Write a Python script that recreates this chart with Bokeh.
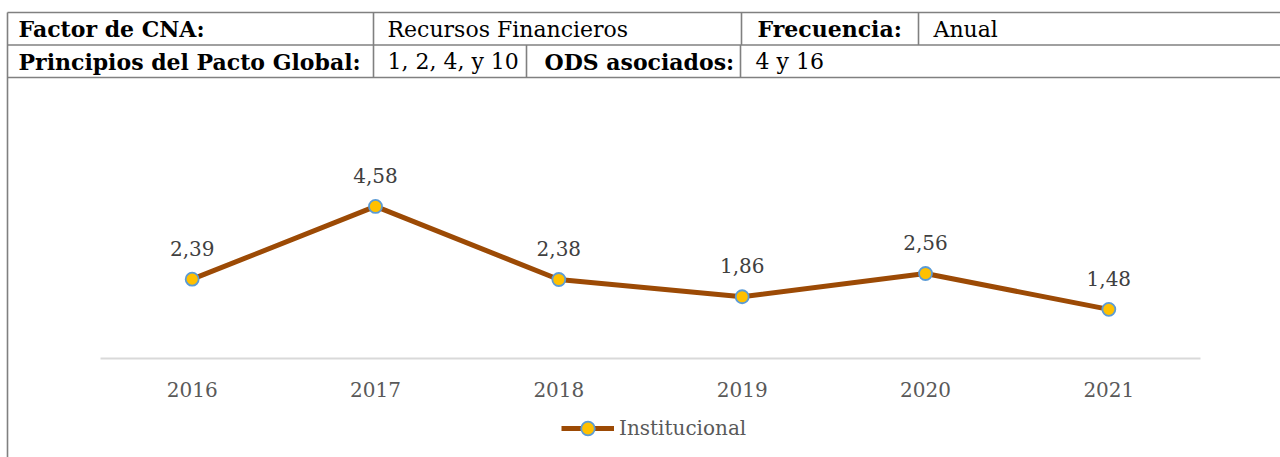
from bokeh.plotting import figure
from bokeh.models import Range1d, Label, Legend, LegendItem, ColumnDataSource
from bokeh.core.properties import value
from bokeh.embed import file_html
from bokeh.resources import INLINE

# ---------------- data ----------------
years = [2016, 2017, 2018, 2019, 2020, 2021]
institucional = [2.39, 4.58, 2.38, 1.86, 2.56, 1.48]
series_name = "Institucional"

row1_texts = ["Factor de CNA:", "Recursos Financieros", "Frecuencia:", "Anual"]
row1_bold = [True, False, True, False]
row2_texts = ["Principios del Pacto Global:", "1, 2, 4, y 10", "ODS asociados:", "4 y 16"]
row2_bold = [True, False, True, False]

# ---------------- layout (pixel coordinates of the reference) ----------------
W, H = 1280, 457

FONT = "DejaVu Serif"
TABLE_SIZE = "22px"
CHART_SIZE = "20px"

table_left = 7
table_right = W
table_lines_y = [12, 44.5, 77]
row1_seps = [373, 741, 918]
row2_seps = [373, 526, 740]
row1_text_x = [18, 387, 757, 933]
row2_text_x = [18, 387, 544, 755]
row_centers = [28.5, 61]

band_left, band_right = 100, 1200
zero_y = 358
unit_px = 33.2

p = figure(width=W, height=H, output_backend="svg", toolbar_location=None,
           x_range=Range1d(0, W), y_range=Range1d(H, 0),
           min_border=0, min_border_left=0, min_border_right=0,
           min_border_top=0, min_border_bottom=0)
p.xaxis.visible = False
p.yaxis.visible = False
p.grid.visible = False
p.outline_line_color = None
p.background_fill_color = "white"
p.border_fill_color = "white"

# chart ranges (value scales for the line chart)
band = (band_right - band_left) / len(years)
xs = years[0] - 0.5 - band_left / band
p.extra_x_ranges = {"cx": Range1d(xs, xs + W / band)}
ys = -(H - zero_y) / unit_px
p.extra_y_ranges = {"cy": Range1d(ys, ys + H / unit_px)}

# ---------------- table ----------------
BORDER = "#808080"
for yy in table_lines_y:
    p.segment(x0=table_left, y0=yy, x1=table_right, y1=yy, line_color=BORDER, line_width=1.6)
p.segment(x0=table_left, y0=table_lines_y[0], x1=table_left, y1=H, line_color=BORDER, line_width=1.6)
for sx in row1_seps:
    p.segment(x0=sx, y0=table_lines_y[0], x1=sx, y1=table_lines_y[1], line_color=BORDER, line_width=1.6)
for sx in row2_seps:
    p.segment(x0=sx, y0=table_lines_y[1], x1=sx, y1=table_lines_y[2], line_color=BORDER, line_width=1.6)

for texts, bolds, xpos, cy in [(row1_texts, row1_bold, row1_text_x, row_centers[0]),
                               (row2_texts, row2_bold, row2_text_x, row_centers[1])]:
    for t, b, x in zip(texts, bolds, xpos):
        p.add_layout(Label(x=x, y=cy, text=t, text_font=FONT,
                           text_font_size=TABLE_SIZE, text_font_style="bold" if b else "normal",
                           text_color="black", text_baseline="middle", text_align="left"))

# ---------------- chart ----------------
src = ColumnDataSource(dict(
    x=years, y=institucional,
    lab=[f"{v:.2f}".replace(".", ",") for v in institucional],
    yr=[str(y) for y in years],
    zero=[0] * len(years),
))

p.segment(x0=years[0] - 0.5, y0=0, x1=years[-1] + 0.5, y1=0,
          x_range_name="cx", y_range_name="cy", line_color="#d9d9d9", line_width=2)

line_r = p.line("x", "y", source=src, x_range_name="cx", y_range_name="cy",
                line_color="#9C4A05", line_width=5, line_join="round")
dot_r = p.scatter("x", "y", source=src, x_range_name="cx", y_range_name="cy",
                  size=13, fill_color="#FFC000", line_color="#5B9BD5", line_width=1.8)

p.text("x", "y", text="lab", source=src, x_range_name="cx", y_range_name="cy",
       y_offset=-31, text_font=value(FONT), text_font_size=CHART_SIZE,
       text_color="#404040", text_align="center", text_baseline="middle")
p.text("x", "zero", text="yr", source=src, x_range_name="cx", y_range_name="cy",
       y_offset=31, text_font=value(FONT), text_font_size=CHART_SIZE,
       text_color="#595959", text_align="center", text_baseline="middle")

legend = Legend(items=[LegendItem(label=series_name, renderers=[line_r, dot_r])],
                location=(561, H - 428 - 17), orientation="horizontal",
                glyph_width=53, glyph_height=34, label_standoff=5,
                padding=0, margin=0, spacing=0,
                border_line_color=None, background_fill_alpha=0,
                label_text_font=FONT, label_text_font_size=CHART_SIZE,
                label_text_color="#595959")
p.add_layout(legend)

open("out.html", "w").write(file_html(p, INLINE))
